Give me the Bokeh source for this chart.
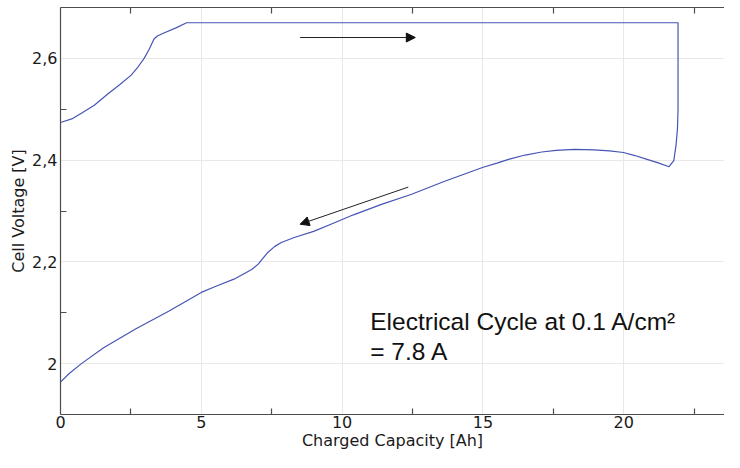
from bokeh.plotting import figure
from bokeh.models import (FixedTicker, LinearAxis, Range1d, Label, Arrow, NormalHead,
                          CustomJSTickFormatter)
from bokeh.embed import file_html
from bokeh.resources import INLINE

# ---- data ----
charge_capacity = [0.0, 0.40, 0.77, 1.20, 1.70, 2.10, 2.51, 2.75, 2.97, 3.15, 3.32, 3.44,
                   3.67, 4.10, 4.48, 21.93]
charge_voltage = [2.474, 2.481, 2.493, 2.508, 2.531, 2.548, 2.567, 2.583, 2.600, 2.618, 2.638,
                  2.644, 2.650, 2.660, 2.670, 2.670]

turn_capacity = [21.93, 21.93, 21.91, 21.86, 21.78, 21.61]
turn_voltage = [2.670, 2.500, 2.462, 2.430, 2.399, 2.387]

discharge_capacity = [21.61, 21.20, 20.80, 20.40, 19.99, 19.50, 18.95, 18.25, 17.60, 17.09,
                      16.50, 15.94, 15.50, 15.01, 13.62, 12.47, 11.40, 10.38, 9.69, 8.99,
                      8.30, 7.84, 7.60, 7.37, 7.20, 7.03, 6.79, 6.16, 5.52, 5.00, 3.84,
                      2.68, 1.53, 0.72, 0.30, 0.0]
discharge_voltage = [2.387, 2.395, 2.402, 2.409, 2.415, 2.418, 2.420, 2.421, 2.419, 2.416,
                     2.410, 2.402, 2.394, 2.386, 2.358, 2.333, 2.313, 2.292, 2.276, 2.260,
                     2.248, 2.238, 2.230, 2.219, 2.208, 2.196, 2.185, 2.166, 2.152, 2.140,
                     2.103, 2.0685, 2.031, 1.999, 1.980, 1.9636]

x_major = [0, 5, 10, 15, 20]
x_minor = [2.5, 7.5, 12.5, 17.5, 22.5]
y_major = [2.0, 2.2, 2.4, 2.6]
y_minor = [2.1, 2.3, 2.5]

arrow_charge = (8.51, 2.641, 12.60, 2.641)
arrow_discharge = (12.35, 2.347, 8.51, 2.274)

annotation_text = "Electrical Cycle at 0.1 A/cm\u00b2\n= 7.8 A"
annotation_pos = (11.0, 2.109)

x_label = "Charged Capacity [Ah]"
y_label = "Cell Voltage [V]"

# ---- figure ----
p = figure(width=724, height=452, output_backend="svg", toolbar_location=None,
           x_range=Range1d(0, 23.58), y_range=Range1d(1.9, 2.7),
           x_axis_location=None, y_axis_location=None,
           min_border_left=60, min_border_right=0, min_border_top=7, min_border_bottom=0)
p.outline_line_color = None
p.background_fill_color = "white"
p.border_fill_color = "white"

xt = FixedTicker(ticks=x_major, minor_ticks=x_minor)
yt = FixedTicker(ticks=y_major, minor_ticks=y_minor)
xt_top = FixedTicker(ticks=[], minor_ticks=x_minor)

fmt = CustomJSTickFormatter(code="return String(Number(tick.toFixed(1))).replace('.', ',');")

FONT = "DejaVu Sans"
FS = "16px"
AXC = "#4d4d4d"
TXC = "#1a1a1a"


def style_axis(ax):
    ax.axis_line_color = AXC
    ax.axis_line_width = 1.2
    ax.major_tick_in = 0
    ax.major_tick_out = 0
    ax.minor_tick_in = 6
    ax.minor_tick_out = 0
    ax.minor_tick_line_color = AXC
    ax.minor_tick_line_width = 1.2
    ax.major_label_text_font = FONT
    ax.major_label_text_color = TXC
    ax.major_label_text_font_size = FS
    ax.axis_label_text_font = FONT
    ax.axis_label_text_font_size = FS
    ax.axis_label_text_font_style = "normal"
    ax.axis_label_text_color = TXC


xb = LinearAxis(ticker=xt, formatter=fmt, axis_label=x_label)
style_axis(xb)
xb.major_label_standoff = 1
xb.axis_label_standoff = 0
p.add_layout(xb, "below")

xa = LinearAxis(ticker=xt_top, formatter=fmt)
style_axis(xa)
xa.major_label_standoff = 0
p.add_layout(xa, "above")

yl = LinearAxis(ticker=yt, formatter=fmt, axis_label=y_label)
style_axis(yl)
yl.major_label_standoff = 3
yl.axis_label_standoff = 1
p.add_layout(yl, "left")

p.xgrid.ticker = xt
p.ygrid.ticker = yt
p.xgrid.grid_line_color = "#e8e8e8"
p.ygrid.grid_line_color = "#e8e8e8"
p.xgrid.grid_line_width = 1
p.ygrid.grid_line_width = 1

xs = charge_capacity + turn_capacity[1:] + discharge_capacity[1:]
ys = charge_voltage + turn_voltage[1:] + discharge_voltage[1:]
p.line(xs, ys, line_color="#4655b5", line_width=1.2, line_join="round")

for (x0, y0, x1, y1) in (arrow_charge, arrow_discharge):
    p.add_layout(Arrow(x_start=x0, y_start=y0, x_end=x1, y_end=y1,
                       line_color="#222222", line_width=1,
                       end=NormalHead(size=9, fill_color="#111111", line_color="#111111")))

p.add_layout(Label(x=annotation_pos[0], y=annotation_pos[1], text=annotation_text,
                   text_font="Liberation Sans", text_font_size="24.5px",
                   text_baseline="top", text_align="left", text_color="#111111",
                   text_line_height=1.1))

open("out.html", "w").write(file_html(p, INLINE))
